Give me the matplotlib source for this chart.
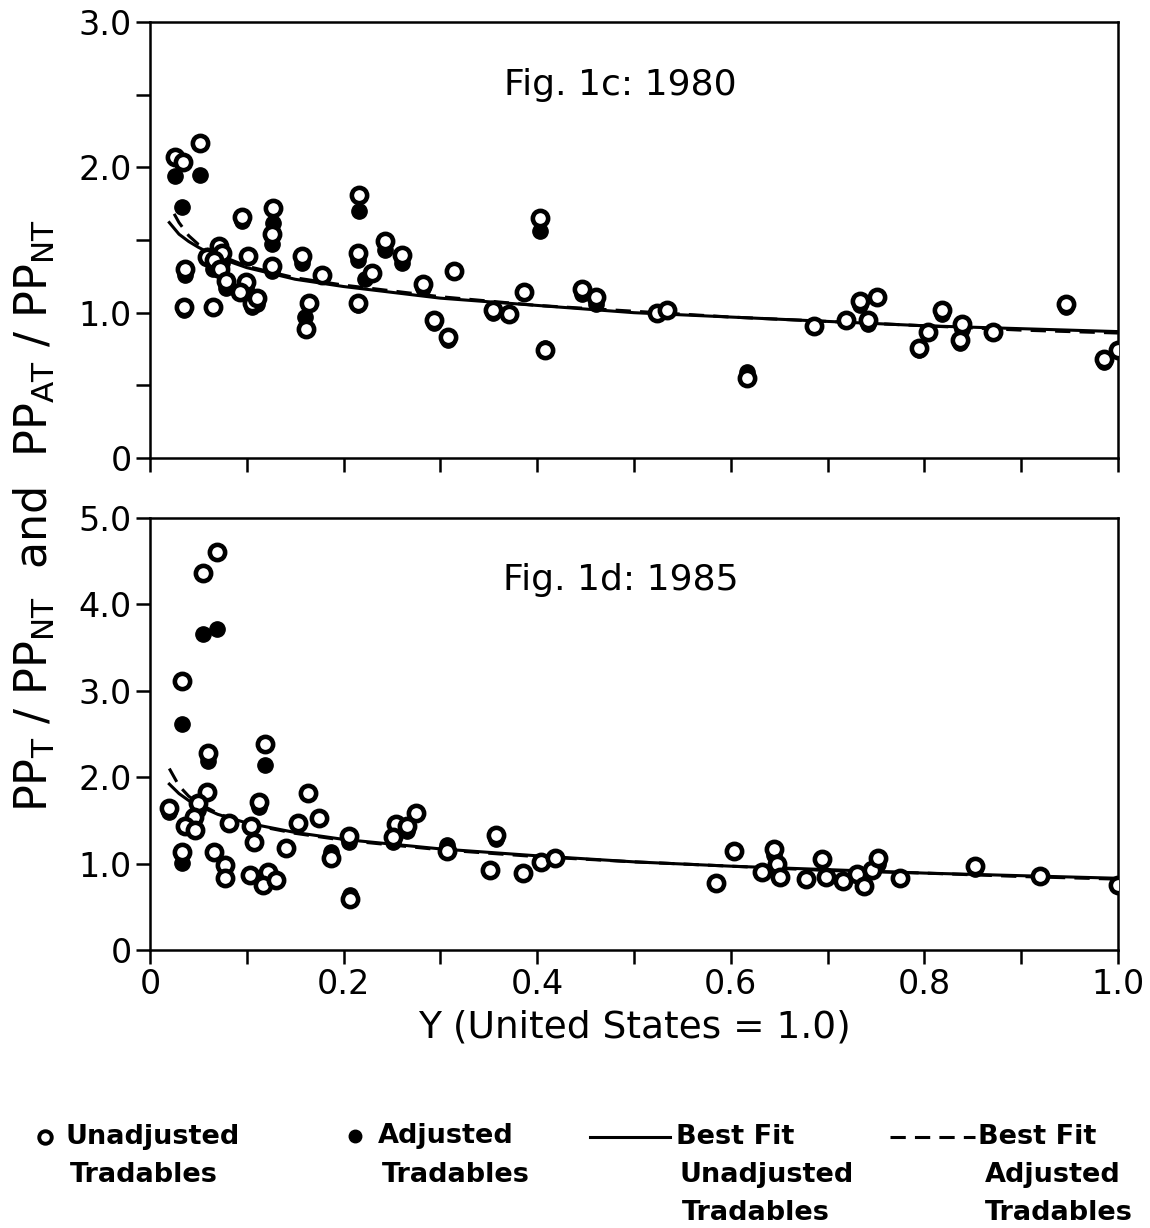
import matplotlib.pyplot as plt
from matplotlib.lines import Line2D

# ---- 1980 (Fig. 1c) ----
unadj_x_1980 = [0.026, 0.034, 0.052, 0.036, 0.035, 0.065, 0.059, 0.071, 0.074, 0.068, 0.066, 0.072,
                0.079, 0.095, 0.101, 0.099, 0.093, 0.105, 0.111, 0.127, 0.126, 0.126, 0.157, 0.164,
                0.161, 0.178, 0.216, 0.215, 0.215, 0.229, 0.243, 0.260, 0.282, 0.293, 0.308, 0.314,
                0.354, 0.371, 0.386, 0.403, 0.408, 0.446, 0.461, 0.524, 0.534, 0.617, 0.686, 0.719,
                0.734, 0.742, 0.751, 0.795, 0.804, 0.818, 0.839, 0.837, 0.871, 0.946, 0.986, 1.0]
unadj_y_1980 = [2.07, 2.04, 2.17, 1.30, 1.04, 1.04, 1.38, 1.46, 1.41, 1.33, 1.36, 1.30,
                1.22, 1.66, 1.39, 1.21, 1.14, 1.07, 1.10, 1.72, 1.54, 1.32, 1.39, 1.07,
                0.89, 1.26, 1.81, 1.41, 1.07, 1.27, 1.49, 1.40, 1.20, 0.95, 0.83, 1.29,
                1.02, 0.99, 1.14, 1.65, 0.74, 1.16, 1.11, 1.00, 1.02, 0.55, 0.91, 0.95,
                1.08, 0.95, 1.11, 0.76, 0.87, 1.02, 0.92, 0.81, 0.87, 1.06, 0.68, 0.74]
adj_x_1980 = [0.026, 0.052, 0.033, 0.036, 0.035, 0.127, 0.126, 0.157, 0.160, 0.216, 0.215, 0.222,
              0.215, 0.243, 0.260, 0.282, 0.293, 0.308, 0.354, 0.403, 0.408, 0.446, 0.461, 0.524,
              0.617, 0.734, 0.742, 0.795, 0.818, 0.837, 0.839, 0.946, 0.986, 0.079, 0.071, 0.095,
              0.099, 0.105, 0.126, 0.111, 0.065, 0.074]
adj_y_1980 = [1.94, 1.95, 1.73, 1.26, 1.02, 1.62, 1.47, 1.34, 0.97, 1.70, 1.36, 1.23,
              1.05, 1.43, 1.34, 1.17, 0.93, 0.81, 1.00, 1.56, 0.76, 1.13, 1.06, 0.99,
              0.59, 1.05, 0.92, 0.74, 0.99, 0.79, 0.89, 1.04, 0.66, 1.17, 1.40, 1.63,
              1.17, 1.04, 1.29, 1.06, 1.30, 1.34]
fit_x_1980 = [0.02, 0.03, 0.04, 0.05, 0.07, 0.1, 0.15, 0.2, 0.3, 0.4, 0.5, 0.6, 0.7, 0.8, 0.9, 1.0]
fit_unadj_1980 = [1.62, 1.54, 1.49, 1.45, 1.38, 1.31, 1.23, 1.18, 1.10, 1.05, 1.00, 0.97, 0.94, 0.91, 0.89, 0.87]
fitd_x_1980 = [0.025, 0.03, 0.04, 0.05, 0.07, 0.1, 0.15, 0.2, 0.3, 0.4, 0.5, 0.6, 0.7, 0.8, 0.9, 1.0]
fit_adj_1980 = [1.68, 1.62, 1.53, 1.47, 1.40, 1.32, 1.24, 1.19, 1.11, 1.05, 1.01, 0.97, 0.94, 0.91, 0.88, 0.86]

# ---- 1985 (Fig. 1d) ----
unadj_x_1985 = [0.069, 0.055, 0.033, 0.060, 0.119, 0.020, 0.059, 0.050, 0.045, 0.036, 0.047, 0.033,
                0.113, 0.163, 0.153, 0.175, 0.082, 0.104, 0.108, 0.141, 0.187, 0.066, 0.078, 0.078,
                0.103, 0.122, 0.117, 0.130, 0.206, 0.207, 0.254, 0.275, 0.266, 0.251, 0.307, 0.357,
                0.351, 0.385, 0.404, 0.418, 0.585, 0.603, 0.632, 0.645, 0.648, 0.651, 0.678, 0.694,
                0.698, 0.716, 0.730, 0.738, 0.746, 0.752, 0.775, 0.852, 0.919, 1.0]
unadj_y_1985 = [4.61, 4.36, 3.11, 2.28, 2.38, 1.64, 1.83, 1.70, 1.54, 1.44, 1.39, 1.13,
                1.71, 1.82, 1.47, 1.53, 1.47, 1.44, 1.25, 1.18, 1.06, 1.13, 0.98, 0.83,
                0.87, 0.90, 0.75, 0.81, 1.32, 0.59, 1.46, 1.58, 1.43, 1.31, 1.14, 1.33,
                0.93, 0.89, 1.02, 1.06, 0.77, 1.14, 0.90, 1.17, 1.00, 0.85, 0.82, 1.05,
                0.85, 0.80, 0.88, 0.74, 0.93, 1.07, 0.83, 0.97, 0.86, 0.75]
adj_x_1985 = [0.055, 0.069, 0.033, 0.060, 0.119, 0.020, 0.113, 0.033, 0.050, 0.187, 0.206, 0.207,
              0.251, 0.307, 0.357, 0.266, 0.645, 0.648, 0.738, 0.752, 0.852]
adj_y_1985 = [3.66, 3.71, 2.62, 2.19, 2.14, 1.60, 1.65, 1.01, 1.62, 1.13, 1.25, 0.64,
              1.25, 1.21, 1.28, 1.38, 1.10, 0.95, 0.78, 1.00, 0.94]
fit_x_1985 = [0.02, 0.03, 0.04, 0.05, 0.07, 0.1, 0.15, 0.2, 0.3, 0.4, 0.5, 0.6, 0.7, 0.8, 0.9, 1.0]
fit_unadj_1985 = [1.92, 1.81, 1.73, 1.67, 1.57, 1.47, 1.36, 1.28, 1.17, 1.09, 1.02, 0.97, 0.93, 0.89, 0.86, 0.83]
fit_adj_1985 = [2.10, 1.90, 1.78, 1.70, 1.58, 1.46, 1.35, 1.27, 1.16, 1.08, 1.02, 0.97, 0.92, 0.89, 0.85, 0.82]

x_ticks = [0, 0.2, 0.4, 0.6, 0.8, 1.0]
x_ticklabels = ["0", "0.2", "0.4", "0.6", "0.8", "1.0"]
y_ticks_1980 = [0, 1, 2, 3]
y_ticklabels_1980 = ["0", "1.0", "2.0", "3.0"]
y_ticks_1985 = [0, 1, 2, 3, 4, 5]
y_ticklabels_1985 = ["0", "1.0", "2.0", "3.0", "4.0", "5.0"]

fontsize = 24
lw = 2.2
ms = 11
mew = 3.3

fig = plt.figure(figsize=(11.5, 12.28), dpi=100)
ax1 = fig.add_axes([0.1304, 0.6270, 0.8417, 0.3551])
ax2 = fig.add_axes([0.1304, 0.2264, 0.8417, 0.3518])


def style_axis(ax, yticks, yticklabels, ymax, minor_y):
    for sp in ax.spines.values():
        sp.set_linewidth(1.8)
    ax.set_xlim(0, 1.0)
    ax.set_ylim(0, ymax)
    ax.set_xticks([i / 10 for i in range(11)])
    ax.set_xticklabels([])
    ax.set_yticks(yticks)
    ax.set_yticklabels(yticklabels, fontsize=fontsize)
    if minor_y:
        ax.set_yticks(minor_y, minor=True)
    ax.tick_params(axis="both", which="major", direction="out", length=10, width=1.8, pad=3)
    ax.tick_params(axis="y", which="minor", direction="out", length=10, width=1.8)


# top panel
ax1.plot(adj_x_1980, adj_y_1980, "o", ms=ms, mfc="black", mec="black", zorder=3)
ax1.plot(unadj_x_1980, unadj_y_1980, "o", ms=ms, mfc="white", mec="black", mew=mew, zorder=4)
ax1.plot(fit_x_1980, fit_unadj_1980, "-", color="black", lw=lw, zorder=2)
ax1.plot(fitd_x_1980, fit_adj_1980, "--", color="black", lw=lw, dashes=(5, 3), zorder=2)
style_axis(ax1, y_ticks_1980, y_ticklabels_1980, 3.0, [0.5, 1.5, 2.5])
ax1.text(0.486, 0.855, "Fig. 1c: 1980", transform=ax1.transAxes, ha="center", va="center",
         fontsize=26)

# bottom panel
ax2.plot(adj_x_1985, adj_y_1985, "o", ms=ms, mfc="black", mec="black", zorder=3)
ax2.plot(unadj_x_1985, unadj_y_1985, "o", ms=ms, mfc="white", mec="black", mew=mew, zorder=4)
ax2.plot(fit_x_1985, fit_unadj_1985, "-", color="black", lw=lw, zorder=2)
ax2.plot(fit_x_1985, fit_adj_1985, "--", color="black", lw=lw, dashes=(5, 3), zorder=2)
style_axis(ax2, y_ticks_1985, y_ticklabels_1985, 5.0, None)
ax2.set_xticks(x_ticks)
ax2.set_xticklabels(x_ticklabels, fontsize=fontsize)
ax2.set_xticks([0.1, 0.3, 0.5, 0.7, 0.9], minor=True)
ax2.tick_params(axis="x", which="minor", direction="out", length=10, width=1.8)
ax2.text(0.486, 0.856, "Fig. 1d: 1985", transform=ax2.transAxes, ha="center", va="center",
         fontsize=26)
ax2.set_xlabel("Y (United States = 1.0)", fontsize=27, labelpad=6)

fig.text(0.030, 0.58,
         r"PP$_\mathregular{T}$ / PP$_\mathregular{NT}$  and  PP$_\mathregular{AT}$ / PP$_\mathregular{NT}$",
         rotation=90, ha="center", va="center", fontsize=32)

# legend drawn in pixel space below the panels
leg = fig.add_axes([0, 0, 1, 1])
leg.set_xlim(0, 1150)
leg.set_ylim(1228, 0)
leg.axis("off")
lf = dict(fontsize=19.5, fontweight="bold", va="center", ha="left")
leg.add_line(Line2D([45], [1137], marker="o", ms=9, mfc="white", mec="black", mew=2.8))
leg.text(66, 1137, "Unadjusted", **lf)
leg.text(70, 1175, "Tradables", **lf)
leg.add_line(Line2D([355], [1136], marker="o", ms=9, mfc="black", mec="black"))
leg.text(378, 1136, "Adjusted", **lf)
leg.text(382, 1175, "Tradables", **lf)
leg.add_line(Line2D([590, 670], [1137, 1137], color="black", lw=lw))
leg.text(676, 1137, "Best Fit", **lf)
leg.text(680, 1175, "Unadjusted", **lf)
leg.text(682, 1213, "Tradables", **lf)
leg.add_line(Line2D([890, 975], [1137, 1137], color="black", lw=lw, ls="--", dashes=(5, 3)))
leg.text(978, 1137, "Best Fit", **lf)
leg.text(985, 1175, "Adjusted", **lf)
leg.text(985, 1213, "Tradables", **lf)

plt.savefig("out.png", dpi=100)
